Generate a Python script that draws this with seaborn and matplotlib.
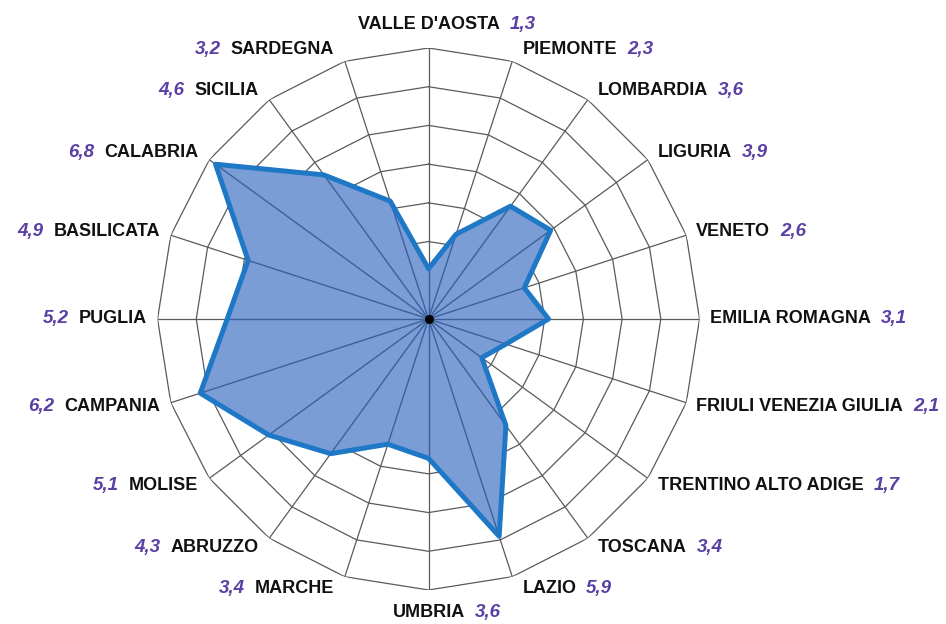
import numpy as np
import pandas as pd
import matplotlib
matplotlib.use("Agg")
import matplotlib.pyplot as plt
import seaborn as sns

regions = ["VALLE D'AOSTA", "PIEMONTE", "LOMBARDIA", "LIGURIA", "VENETO",
           "EMILIA ROMAGNA", "FRIULI VENEZIA GIULIA", "TRENTINO ALTO ADIGE",
           "TOSCANA", "LAZIO", "UMBRIA", "MARCHE", "ABRUZZO", "MOLISE",
           "CAMPANIA", "PUGLIA", "BASILICATA", "CALABRIA", "SICILIA", "SARDEGNA"]
values = [1.3, 2.3, 3.6, 3.9, 2.6, 3.1, 2.1, 1.7, 3.4, 5.9,
          3.6, 3.4, 4.3, 5.1, 6.2, 5.2, 4.9, 6.8, 4.6, 3.2]
rings = [1, 2, 3, 4, 5, 6, 7]

sns.set_theme(style="white")
plt.rcParams['font.family'] = ['Liberation Sans', 'DejaVu Sans']

n = len(regions)
theta = np.arange(n) * 2 * np.pi / n
df = pd.DataFrame({"theta": np.append(theta, 2 * np.pi),
                   "value": values + values[:1],
                   "region": regions + regions[:1]})

fig = plt.figure(figsize=(9.46, 6.24), dpi=100)
ax = fig.add_axes([0.1665, 0.0545, 0.573, 0.8686], projection="polar")
ax.set_theta_zero_location("N")
ax.set_theta_direction(-1)
ax.set_ylim(0, rings[-1])
ax.grid(False)
ax.spines["polar"].set_visible(False)
ax.set_xticks([])
ax.set_yticks([])

tc = np.append(theta, 2 * np.pi)
grid_col = "#5a5a5a"
for r in rings:
    ax.plot(tc, [r] * len(tc), color=grid_col, lw=0.9, zorder=1)
for t in theta:
    ax.plot([t, t], [0, rings[-1]], color=grid_col, lw=0.9, zorder=1)

polys = ax.fill(df["theta"], df["value"], color="#7b9dd6", zorder=2, lw=0)
poly = polys[0]
# spokes visible through the filled area
for t in theta:
    ln, = ax.plot([t, t], [0, rings[-1]], color="#3d5f9c", lw=1.0, zorder=2.5)
    ln.set_clip_path(poly)

sns.lineplot(data=df, x="theta", y="value", sort=False, ax=ax,
             color="#1f78c6", lw=3.6, zorder=3, estimator=None)
ax.set_xlabel("")
ax.set_ylabel("")
ax.scatter([0], [0], s=30, color="black", zorder=5)

name_kw = dict(fontsize=13, fontweight="bold", color="#111111")
val_kw = dict(fontsize=13.5, fontweight="bold", fontstyle="italic", color="#5a3fa5")
pt = 72 / 100.0
for name, v, t in zip(regions, values, theta):
    s, c = np.sin(t), np.cos(t)
    lab = f"{v:.1f}".replace(".", ",")
    if abs(s) < 1e-6:
        dy = 23 if c > 0 else -23
        nt = ax.annotate(name, xy=(t, rings[-1]), xytext=(0, dy * pt),
                         textcoords="offset points", ha="center", va="center", **name_kw)
        ax.annotate(lab, xy=(1, 0.5), xycoords=nt, xytext=(10 * pt, 0),
                    textcoords="offset points", ha="left", va="center", **val_kw)
    elif s > 0:
        nt = ax.annotate(name, xy=(t, rings[-1]), xytext=(10 * pt, 12 * c * pt),
                         textcoords="offset points", ha="left", va="center", **name_kw)
        ax.annotate(lab, xy=(1, 0.5), xycoords=nt, xytext=(10 * pt, 0),
                    textcoords="offset points", ha="left", va="center", **val_kw)
    else:
        nt = ax.annotate(name, xy=(t, rings[-1]), xytext=(-11 * pt, 12 * c * pt),
                         textcoords="offset points", ha="right", va="center", **name_kw)
        ax.annotate(lab, xy=(0, 0.5), xycoords=nt, xytext=(-10 * pt, 0),
                    textcoords="offset points", ha="right", va="center", **val_kw)

fig.savefig("out.png", dpi=100, facecolor="white")
